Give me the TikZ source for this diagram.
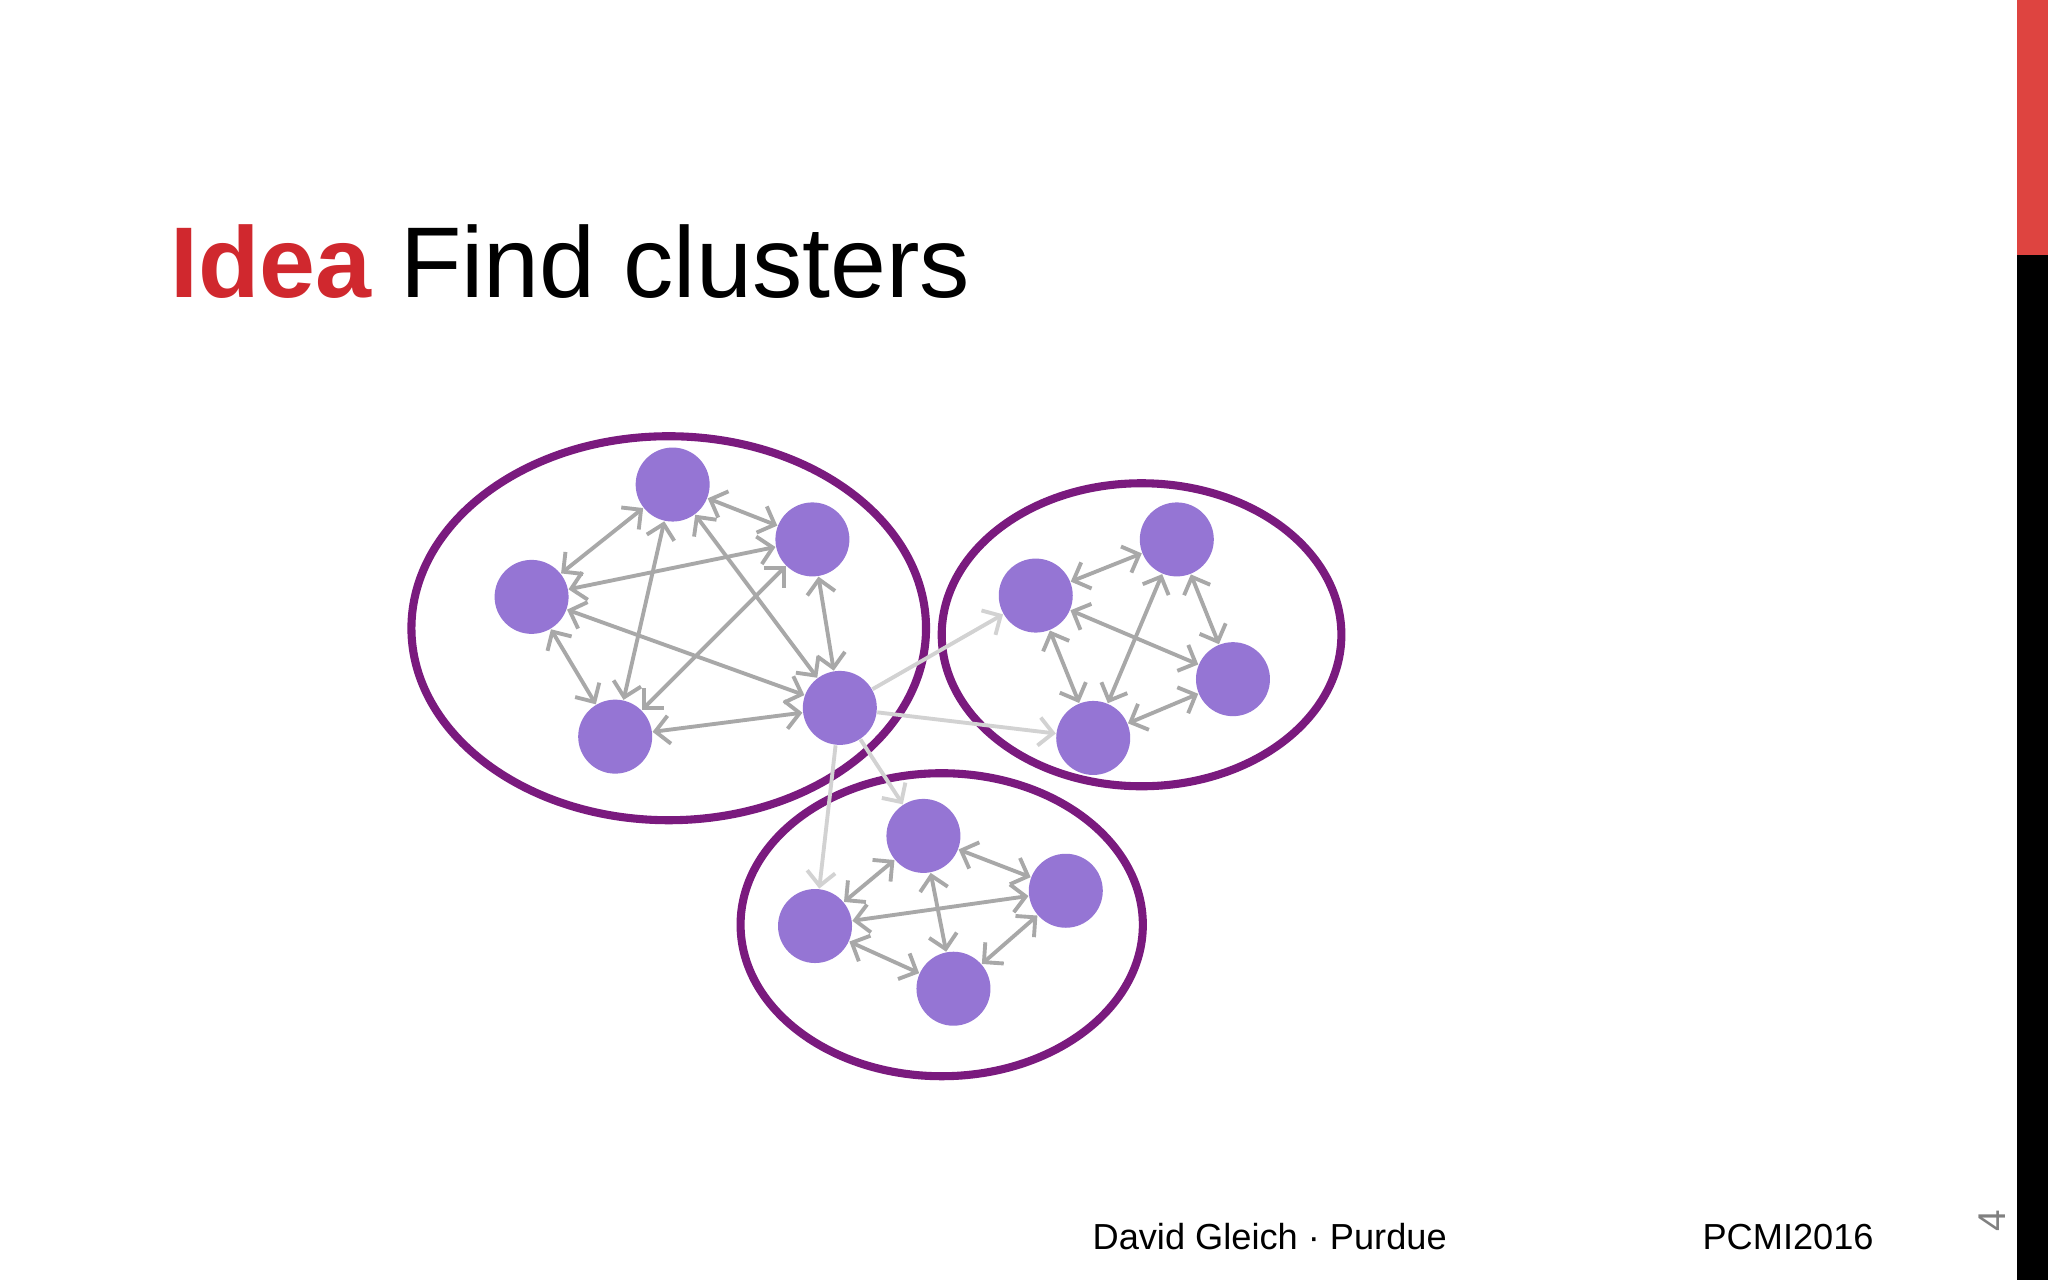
\documentclass[tikz,border=0pt]{standalone}
\usepackage{fontspec}
\setmainfont{Liberation Sans}
\usetikzlibrary{arrows.meta}
\definecolor{vert}{HTML}{9575D4}
\definecolor{ring}{HTML}{7A1A7E}
\definecolor{edg}{HTML}{A8A8A8}
\definecolor{ledg}{HTML}{D2D2D2}
\definecolor{ttl}{HTML}{D0282E}
\definecolor{barred}{HTML}{DE4440}
\tikzset{
 vx/.style={circle,fill=vert,minimum size=0.74cm,inner sep=0pt},
 bi/.style={draw=edg,line width=1.1pt,{Straight Barb[length=4pt,width=8pt]}-{Straight Barb[length=4pt,width=8pt]},shorten <=0pt,shorten >=0pt},
 uni/.style={draw=ledg,line width=1.1pt,-{Straight Barb[length=4pt,width=8pt]},shorten >=0pt},
 clus/.style={draw=ring,line width=2.3pt}
}
\begin{document}
\begin{tikzpicture}[x=0.013061cm,y=-0.013061cm]
\useasboundingbox (0,0) rectangle (1568,980);
\fill[white] (0,0) rectangle (1568,980);
\fill[barred] (1544,0) rectangle (1568,195);
\fill[black] (1544,195) rectangle (1568,980);
\node[anchor=base west,inner sep=0pt,font=\fontsize{28.6}{30}\selectfont] (title) at (130,228) {\textcolor{ttl}{\textbf{Idea}} Find clusters};
\node[anchor=base west,inner sep=0pt,font=\fontsize{10.3}{11}\selectfont] (auth) at (836,957) {David Gleich · Purdue};
\node[anchor=base west,inner sep=0pt,font=\fontsize{10.3}{11}\selectfont] (conf) at (1303,957) {PCMI2016};
\node[rotate=90,inner sep=0pt,font=\fontsize{11}{12}\selectfont,text=gray] (pg) at (1525,935) {4};
% clusters
\draw[clus] (512,481) ellipse [x radius=197,y radius=147];
\draw[clus] (874,486) ellipse [x radius=153,y radius=116];
\draw[clus] (721,708) ellipse [x radius=154,y radius=116];
% nodes
\node[vx] (a) at (515,371) {};
\node[vx] (b) at (622,413) {};
\node[vx] (c) at (407,457) {};
\node[vx] (d) at (643,542) {};
\node[vx] (e) at (471,564) {};
\node[vx] (P) at (901,413) {};
\node[vx] (Q) at (793,456) {};
\node[vx] (R) at (944,520) {};
\node[vx] (S) at (837,565) {};
\node[vx] (A) at (707,640) {};
\node[vx] (B) at (816,682) {};
\node[vx] (C) at (624,709) {};
\node[vx] (D) at (730,757) {};
% inter-cluster
\draw[uni] (d) -- (Q);
\draw[uni] (d) -- (S);
\draw[uni] (d) -- (A);
\draw[uni] (d) -- (C);
% cluster 1
\foreach \u/\v in {a/b,a/c,a/e,a/d,b/c,b/d,b/e,c/d,c/e,d/e}{\draw[bi] (\u) -- (\v);}
% cluster 2
\foreach \u/\v in {Q/P,P/R,Q/R,P/S,Q/S,S/R}{\draw[bi] (\u) -- (\v);}
% cluster 3
\foreach \u/\v in {C/A,A/B,C/B,A/D,C/D,D/B}{\draw[bi] (\u) -- (\v);}
\end{tikzpicture}
\end{document}
